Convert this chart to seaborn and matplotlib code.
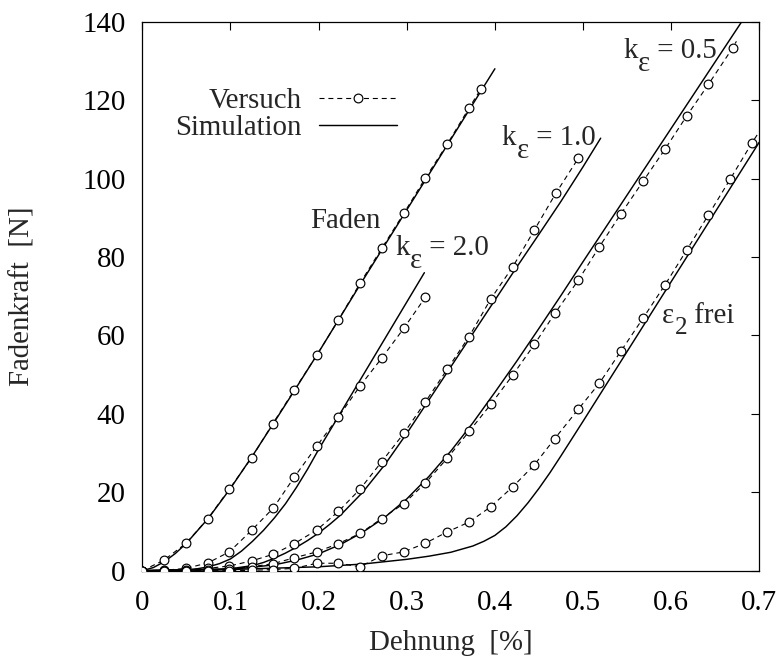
import numpy as np
import pandas as pd
import matplotlib
matplotlib.use("Agg")
import matplotlib.pyplot as plt
from matplotlib.lines import Line2D
import seaborn as sns

# ---------------- data ----------------
# Versuch (experiment) series
faden_exp_x = [0, 0.0246, 0.0496, 0.0745, 0.0987, 0.124, 0.148, 0.1725, 0.198, 0.2224,
               0.247, 0.2716, 0.2966, 0.321, 0.346, 0.3707, 0.384]
faden_exp_y = [0, 2.7, 7.0, 13.3, 20.8, 28.8, 37.5, 46.1, 55.0, 63.9,
               73.3, 82.2, 91.1, 100.1, 108.8, 118.0, 122.8]

k20_exp_x = [0, 0.0246, 0.0496, 0.0745, 0.0987, 0.124, 0.1487, 0.1725, 0.198, 0.2224,
             0.247, 0.2716, 0.2966, 0.321]
k20_exp_y = [0, 0.1, 0.6, 2.0, 4.8, 10.3, 16.0, 23.9, 31.8, 39.2,
             47.1, 54.2, 61.8, 69.7]

k10_exp_x = [0, 0.0246, 0.0496, 0.0745, 0.0987, 0.124, 0.1487, 0.1725, 0.198, 0.2224,
             0.247, 0.2716, 0.2966, 0.321, 0.346, 0.3707, 0.3953, 0.4203, 0.4448, 0.469,
             0.4947]
k10_exp_y = [0, 0, 0.2, 0.6, 1.2, 2.5, 4.2, 6.9, 10.4, 15.1,
             20.8, 27.8, 35.0, 43.0, 51.4, 59.7, 69.3, 77.5, 86.9, 96.2,
             105.2]

k05_exp_x = [0, 0.0246, 0.0496, 0.0745, 0.0987, 0.124, 0.1487, 0.1725, 0.198, 0.2224,
             0.247, 0.2716, 0.2966, 0.321, 0.346, 0.3707, 0.3953, 0.4203, 0.4448, 0.468,
             0.4947, 0.5185, 0.543, 0.5684, 0.593, 0.6177, 0.6422, 0.67, 0.674]
k05_exp_y = [0, 0, 0, 0.2, 0.5, 1.0, 1.8, 3.3, 4.8, 6.9,
             9.5, 13.3, 17.1, 22.3, 28.7, 35.5, 42.4, 49.9, 57.7, 65.6,
             74.1, 82.6, 91.0, 99.4, 107.5, 116.0, 124.0, 133.4, 135.0]

frei_exp_x = [0, 0.0246, 0.0496, 0.0745, 0.0987, 0.124, 0.1487, 0.1725, 0.198, 0.2224,
              0.247, 0.2716, 0.2966, 0.321, 0.346, 0.3707, 0.3953, 0.4203, 0.4448, 0.468,
              0.4947, 0.5185, 0.543, 0.5684, 0.593, 0.6177, 0.6422, 0.6668, 0.6914, 0.70]
frei_exp_y = [0, 0, 0, 0, 0, 0.1, 0.3, 0.6, 1.9, 1.9,
              1.0, 3.8, 4.8, 7.0, 9.9, 12.4, 16.3, 21.4, 27.0, 33.7,
              41.2, 47.8, 56.0, 64.5, 72.9, 81.8, 90.7, 99.8, 109.0, 112.0]

# Simulation series
faden_sim_x = [0, 0.0125, 0.025, 0.0375, 0.05, 0.075, 0.1, 0.125, 0.15, 0.175, 0.2,
               0.25, 0.3, 0.35, 0.4]
faden_sim_y = [0, 0.8, 2.3, 4.4, 7.0, 13.4, 21.0, 29.3, 38.0, 46.8, 55.7,
               74.0, 92.0, 110.0, 128.0]

k20_sim_x = [0, 0.05, 0.0625, 0.075, 0.0875, 0.1, 0.1125, 0.125, 0.1375, 0.15, 0.1625,
             0.175, 0.1875, 0.2, 0.225, 0.25, 0.275, 0.3, 0.32]
k20_sim_y = [0, 0.2, 0.5, 1.0, 1.8, 3.0, 5.0, 7.5, 10.3, 13.5, 17.1,
             21.3, 25.9, 30.9, 40.3, 49.7, 59.1, 68.5, 76.0]

k10_sim_x = [0, 0.1, 0.125, 0.1375, 0.15, 0.1625, 0.175, 0.1875, 0.2, 0.2125, 0.225,
             0.25, 0.275, 0.3, 0.325, 0.35, 0.375, 0.4, 0.425, 0.45, 0.475, 0.5, 0.52]
k10_sim_y = [0, 0.5, 1.3, 2.1, 3.2, 4.5, 6.0, 7.7, 9.6, 11.8, 14.2,
             20.0, 27.0, 35.0, 43.5, 52.0, 60.5, 69.0, 77.5, 85.8, 94.2, 103.0, 110.3]

k05_sim_x = [0, 0.1, 0.15, 0.175, 0.2, 0.225, 0.25, 0.275, 0.3, 0.325, 0.35, 0.375,
             0.4, 0.425, 0.45, 0.475, 0.5, 0.55, 0.6, 0.65, 0.69]
k05_sim_y = [0, 0.3, 1.5, 2.7, 4.3, 6.7, 9.8, 13.6, 18.3, 24.0, 30.5, 37.7,
             45.5, 53.5, 61.8, 70.2, 78.8, 95.8, 112.8, 129.8, 143.4]

frei_sim_x = [0, 0.1, 0.2, 0.25, 0.3, 0.325, 0.35, 0.375, 0.3875, 0.4, 0.4125, 0.425,
              0.4375, 0.45, 0.4625, 0.475, 0.4875, 0.5, 0.525, 0.55, 0.575, 0.6,
              0.625, 0.65, 0.675, 0.7]
frei_sim_y = [0, 0.3, 1.0, 1.7, 2.9, 3.7, 4.7, 6.3, 7.5, 9.0, 11.2, 14.0,
              17.3, 21.0, 25.0, 29.3, 33.7, 38.1, 47.0, 55.9, 64.8, 73.7,
              82.6, 91.5, 100.4, 109.3]

x_ticks = [0, 0.1, 0.2, 0.3, 0.4, 0.5, 0.6, 0.7]
x_tick_labels = ["0", "0.1", "0.2", "0.3", "0.4", "0.5", "0.6", "0.7"]
y_ticks = [0, 20, 40, 60, 80, 100, 120, 140]

# ---------------- style ----------------
sns.set_theme(style="white")
plt.rcParams["font.family"] = ["Liberation Serif", "DejaVu Serif"]

FS = 20.8
fig = plt.figure(figsize=(7.82, 6.6), dpi=100)
ax = fig.add_axes([0.1820, 0.1353, 0.7890, 0.8318])
ax.set_facecolor("white")

sim_kw = dict(color="black", lw=1.05, zorder=2)
exp_kw = dict(color="black", lw=0.8, linestyle=(0, (4.5, 3.5)), marker="o",
              markersize=6.3, markerfacecolor="white", markeredgecolor="black",
              markeredgewidth=0.85, zorder=3)

sims = [(faden_sim_x, faden_sim_y), (k20_sim_x, k20_sim_y), (k10_sim_x, k10_sim_y),
        (k05_sim_x, k05_sim_y), (frei_sim_x, frei_sim_y)]
for xs, ys in sims:
    df = pd.DataFrame({"x": xs, "y": ys})
    sns.lineplot(data=df, x="x", y="y", ax=ax, estimator=None, sort=False, **sim_kw)

exps = [(faden_exp_x, faden_exp_y, None), (k20_exp_x, k20_exp_y, None),
        (k10_exp_x, k10_exp_y, None),
        (k05_exp_x, k05_exp_y, list(range(len(k05_exp_x) - 1))),
        (frei_exp_x, frei_exp_y, list(range(len(frei_exp_x) - 1)))]
for xs, ys, me in exps:
    df = pd.DataFrame({"x": xs, "y": ys})
    kw = dict(exp_kw)
    if me is not None:
        kw["markevery"] = me
    sns.lineplot(data=df, x="x", y="y", ax=ax, estimator=None, sort=False, **kw)

ax.set_xlim(0, 0.7)
ax.set_ylim(0, 140)
ax.set_xticks(x_ticks)
ax.set_xticklabels(x_tick_labels)
ax.set_yticks(y_ticks)
ax.set_yticklabels([str(v) for v in y_ticks])
ax.tick_params(direction="in", length=5.8, width=0.8, top=True, right=True,
               labelsize=FS, colors="black")
ax.tick_params(axis="x", pad=14)
ax.tick_params(axis="y", pad=12)
for s in ax.spines.values():
    s.set_visible(True)
    s.set_color("black")
    s.set_linewidth(0.9)

ax.set_xlabel("Dehnung  [%]", fontsize=FS, va="center")
ax.xaxis.set_label_coords(0.5, -0.1317)
ax.set_ylabel("Fadenkraft  [N]", fontsize=FS, va="center")
ax.yaxis.set_label_coords(-0.195, 0.5)


def sub_label(x, y, base, sub, rest, sub_size, drop):
    t1 = ax.text(x, y, base, fontsize=FS, ha="left", va="baseline")
    t2 = ax.annotate(sub, xy=(1, 0), xycoords=t1, xytext=(0.3, -drop),
                     textcoords="offset points", fontsize=sub_size,
                     ha="left", va="bottom")
    ax.annotate(rest, xy=(1, 0), xycoords=t2, xytext=(0, drop),
                textcoords="offset points", fontsize=FS, ha="left", va="bottom")


# annotations
ax.text(0.1903, 87.4, "Faden", fontsize=FS, ha="left", va="baseline")
sub_label(0.2867, 80.5, "k", "ε", " = 2.0", FS, 9.5)
sub_label(0.408, 108.6, "k", "ε", " = 1.0", FS, 9.5)
sub_label(0.5453, 130.8, "k", "ε", " = 0.5", FS, 9.5)
sub_label(0.5896, 63.2, "ε", "2", " frei", FS * 0.87, 7.0)

# legend
handles = [Line2D([], [], **{k: v for k, v in exp_kw.items() if k != "zorder"}),
           Line2D([], [], color="black", lw=1.05)]
leg = ax.legend(handles, ["Versuch", "Simulation"], loc="center right",
                bbox_to_anchor=(0.4128, 0.8315), frameon=False, markerfirst=False,
                fontsize=FS, handlelength=2.7, handletextpad=0.6, labelspacing=0.03,
                borderpad=0, borderaxespad=0, numpoints=1)

fig.savefig("out.png", dpi=100, facecolor="white")
